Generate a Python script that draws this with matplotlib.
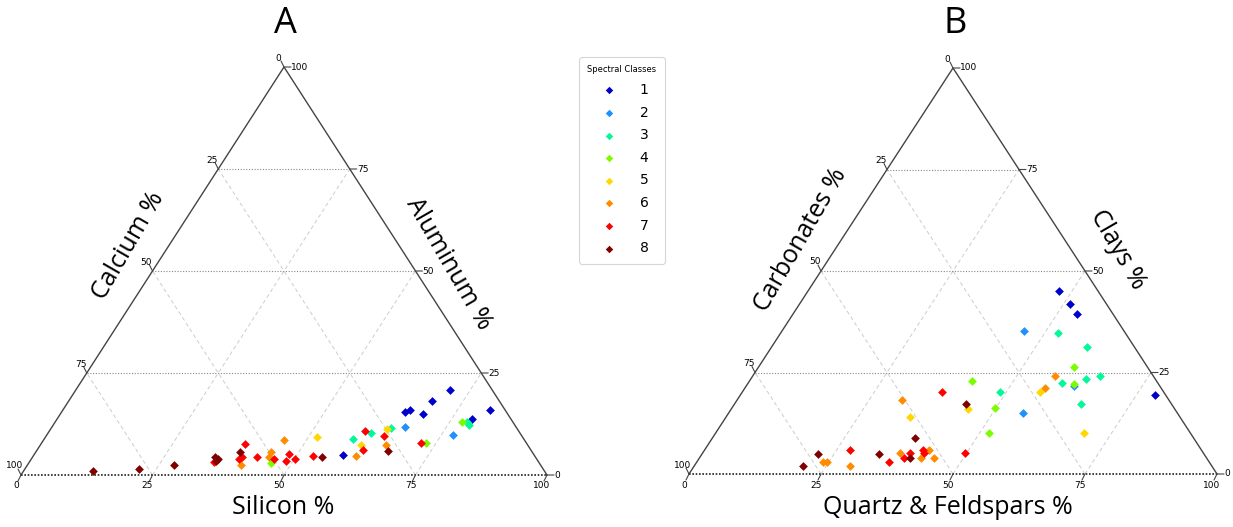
import numpy as np
import matplotlib
matplotlib.use("Agg")
import matplotlib.pyplot as plt
from matplotlib import transforms

# ---- data: (bottom %, right %) per spectral class; left % = 100 - the two
classes = [1, 2, 3, 4, 5, 6, 7, 8]
colors = ["#0000cd", "#1e90ff", "#00fa9a", "#7cfc00",
          "#ffd700", "#ff8c00", "#ff0000", "#800000"]

# panel A: Silicon (bottom), Aluminum (right), Calcium (left)
a_silicon = {
    1: [58.8, 65.3, 66.0, 69.0, 69.0, 71.1, 78.9, 81.2],
    2: [67.1, 77.3],
    3: [58.7, 61.4, 64.6, 78.3, 79.0],
    4: [46.0, 73.1, 77.3],
    5: [51.5, 60.9, 64.0],
    6: [40.5, 44.9, 44.7, 45.7, 61.4, 65.7],
    7: [35.1, 38.7, 39.4, 39.8, 42.6, 46.1, 48.6, 48.4, 50.1, 53.2, 62.0, 60.0, 64.2, 72.2],
    8: [13.1, 21.7, 27.9, 34.6, 35.6, 35.3, 38.8, 55.0, 66.8],
}
a_aluminum = {
    1: [4.9, 15.4, 15.9, 14.9, 18.2, 20.8, 13.7, 15.9],
    2: [11.8, 9.7],
    3: [8.8, 10.2, 11.4, 13.1, 12.3],
    4: [3.0, 7.8, 12.9],
    5: [9.4, 7.4, 11.2],
    6: [2.5, 4.4, 5.6, 8.6, 4.7, 7.4],
    7: [3.3, 7.7, 3.9, 4.3, 4.4, 3.9, 3.4, 5.1, 3.9, 4.7, 6.1, 10.8, 9.6, 7.8],
    8: [1.0, 1.5, 2.4, 4.5, 3.8, 3.5, 5.6, 4.3, 5.9],
}

# panel B: Quartz & Feldspars (bottom), Clays (right), Carbonates (left)
b_quartz = {
    1: [47.6, 51.2, 53.8, 78.6],
    2: [45.8, 55.8, 62.1],
    3: [48.8, 52.4, 59.8, 63.4, 65.8, 59.4, 65.6],
    4: [42.1, 49.8, 51.8, 59.7, 61.8],
    5: [34.9, 44.9, 56.4, 69.9],
    6: [23.9, 24.7, 29.5, 31.1, 37.5, 41.9, 42.5, 44.4, 57.3, 56.8],
    7: [27.5, 36.3, 38.8, 39.4, 41.3, 41.9, 37.8, 49.8],
    8: [20.7, 21.9, 33.5, 38.4, 39.9, 43.8],
}
b_clays = {
    1: [45.1, 41.9, 39.4, 19.4],
    2: [35.3, 15.1, 21.7],
    3: [20.1, 34.8, 31.3, 23.5, 24.2, 22.4, 17.3],
    4: [22.9, 16.2, 10.0, 26.3, 22.2],
    5: [14.1, 16.0, 20.3, 10.0],
    6: [3.0, 3.0, 1.9, 18.3, 5.1, 3.9, 5.9, 3.9, 24.1, 21.2],
    7: [6.0, 3.0, 4.0, 5.1, 5.9, 5.1, 20.1, 5.1],
    8: [1.9, 4.9, 4.9, 8.9, 3.9, 17.2],
}

ticks = [0, 25, 50, 75, 100]

W, H = 1233, 527
fig = plt.figure(figsize=(W / 100, H / 100), dpi=100)
LABEL_FONT = ["Open Sans", "DejaVu Sans"]


def cart(bottom, right):
    # ternary (bottom, right) fractions -> cartesian, triangle height = 1
    b = np.asarray(bottom) / 100.0
    r = np.asarray(right) / 100.0
    return b + r / 2.0, r


def make_axes(x0, x1, yb, ht, pad=0.02):
    wpx = (x1 - x0) * (1 + 2 * pad)
    hpx = ht * (1 + 2 * pad)
    left = x0 - (x1 - x0) * pad
    bottom = H - (yb + ht * pad)
    ax = fig.add_axes([left / W, bottom / H, wpx / W, hpx / H])
    ax.set_xlim(-pad, 1 + pad)
    ax.set_ylim(-pad, 1 + pad)
    ax.axis("off")
    return ax


def draw_triangle(ax):
    # grid
    for t in [0.25, 0.5, 0.75]:
        ax.plot([t / 2, 1 - t / 2], [t, t], ls=(0, (1, 1.5)), color="#888888", lw=0.8, zorder=1)
        ax.plot([t, t + (1 - t) / 2], [0, 1 - t], ls=(0, (4, 3)), color="#cccccc", lw=0.7, zorder=1)
        ax.plot([1 - t, (1 - t) / 2], [0, 1 - t], ls=(0, (4, 3)), color="#cccccc", lw=0.7, zorder=1)
    # border
    ax.plot([0, 0.5, 1], [0, 1, 0], color="#444444", lw=1.0, zorder=2)
    ax.plot([0, 1], [0, 0], ls=(0, (1, 1)), color="#222222", lw=1.2, zorder=2)

    def off(dx, dy):
        return transforms.offset_copy(ax.transData, fig=fig, x=dx, y=dy, units="dots")

    tick_kw = dict(arrowstyle="-", color="#444444", lw=0.8, shrinkA=0, shrinkB=0)
    for t in ticks:
        f = t / 100.0
        # bottom axis
        ax.annotate("", xy=(f, 0), xytext=(-3, -6), textcoords="offset pixels", arrowprops=tick_kw)
        ax.text(f, 0, str(t), transform=off(-5, -11), ha="center", va="center", fontsize=6.5)
        # right axis: value f at height f
        xr, yr = 1 - f / 2, f
        ax.annotate("", xy=(xr, yr), xytext=(7, 0), textcoords="offset pixels", arrowprops=tick_kw)
        ax.text(xr, yr, str(t), transform=off(7, 0), ha="left", va="center", fontsize=6.5)
        # left axis: value f at height 1 - f
        xl, yl = (1 - f) / 2, 1 - f
        ax.annotate("", xy=(xl, yl), xytext=(-3, 6), textcoords="offset pixels", arrowprops=tick_kw)
        ax.text(xl, yl, str(t), transform=off(-6, 9), ha="center", va="center", fontsize=6.5)


def scatter_classes(ax, bottom, right):
    for c, col in zip(classes, colors):
        x, y = cart(bottom[c], right[c])
        ax.scatter(x, y, marker="D", s=20, color=col, linewidths=0, zorder=3,
                   label=str(c), clip_on=False)


axA = make_axes(21, 547, 475, 408)
draw_triangle(axA)
scatter_classes(axA, a_silicon, a_aluminum)

axB = make_axes(689, 1217, 474, 406)
draw_triangle(axB)
scatter_classes(axB, b_quartz, b_clays)


# titles and axis labels (pixel positions)
def ftext(x, y, s, **kw):
    fig.text(x / W, 1 - y / H, s, ha="center", va="center", family=LABEL_FONT, **kw)


ftext(285, 24, "A", fontsize=26)
ftext(955, 24, "B", fontsize=26)
ftext(283, 507, "Silicon %", fontsize=18)
ftext(128, 246, "Calcium %", fontsize=18, rotation=60)
ftext(449, 264, "Aluminum %", fontsize=18, rotation=-60)
ftext(948, 507, "Quartz & Feldspars %", fontsize=18)
ftext(801, 240, "Carbonates %", fontsize=18, rotation=60)
ftext(1118, 250, "Clays %", fontsize=18, rotation=-60)

handles, labels = axA.get_legend_handles_labels()
leg = fig.legend(handles, labels, title="Spectral Classes", loc="upper center",
                 bbox_to_anchor=(622 / W, 1 - 57 / H), borderaxespad=0,
                 fontsize=10, title_fontsize=6,
                 markerscale=0.85, labelspacing=0.62, handletextpad=1.2,
                 borderpad=0.6, frameon=True, scatterpoints=1)
leg.get_frame().set_edgecolor("#cccccc")
leg.get_frame().set_linewidth(0.8)

fig.savefig("out.png", dpi=100)
